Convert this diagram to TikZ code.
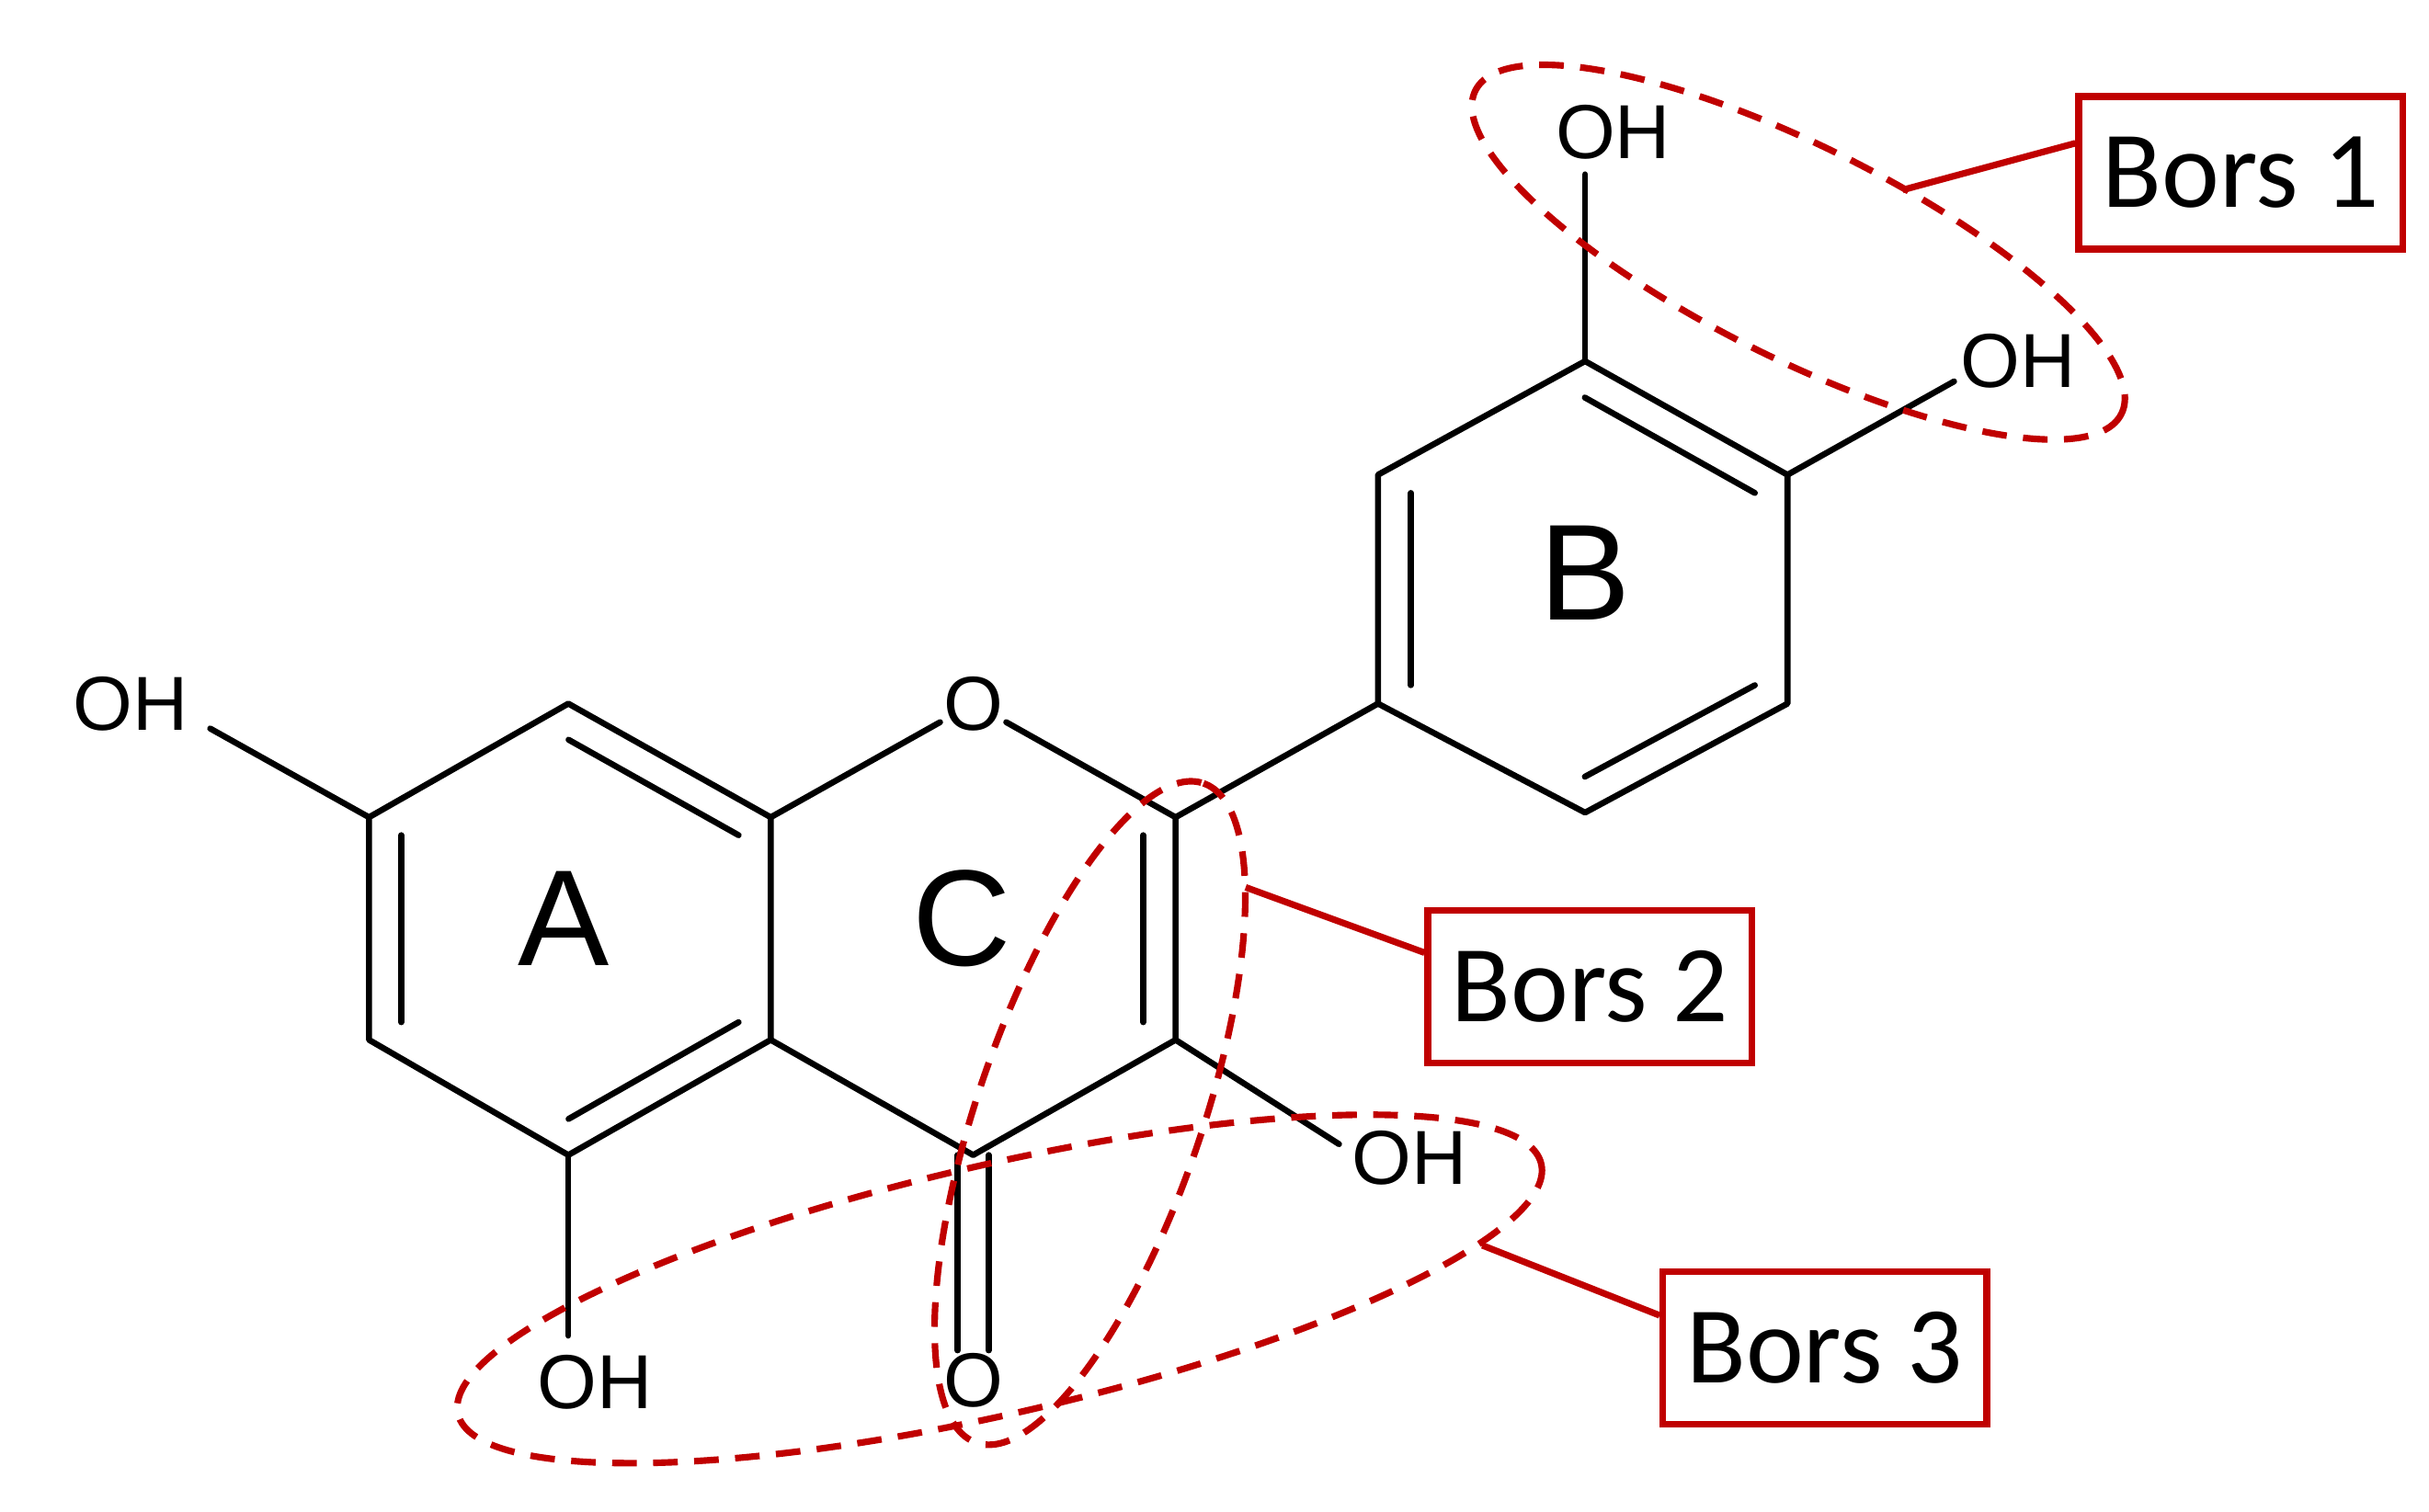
\documentclass[tikz,border=0pt]{standalone}
\usepackage{fontspec}
\setmainfont{Liberation Sans}
\newfontfamily\calib{Carlito}
\usetikzlibrary{calc}
\definecolor{dred}{HTML}{C00000}
\begin{document}
\begin{tikzpicture}[x=0.02cm,y=-0.02cm,
 bond/.style={line width=2.2pt,line cap=round,line join=round},
 atom/.style={inner sep=1pt,font=\fontsize{28}{28}\selectfont},
 ring/.style={font=\fontsize{50}{50}\selectfont},
 bors/.style={draw=dred,line width=2.4pt,font=\calib\fontsize{40}{40}\selectfont,minimum width=208*0.02cm,minimum height=98*0.02cm,inner sep=0pt},
 ell/.style={draw=dred,line width=2.4pt,dash pattern=on 9pt off 6pt},
 lead/.style={draw=dred,line width=2.4pt}]
\useasboundingbox (0,0) rectangle (1560,971);
\coordinate (a1) at (365,452); \coordinate (a2) at (495,525); \coordinate (a3) at (495,668);
\coordinate (a4) at (365,742); \coordinate (a5) at (237,668); \coordinate (a6) at (237,525);
\coordinate (cA) at (366,597); \coordinate (cC) at (625,597); \coordinate (cB) at (1017,378);
\node[atom] (o1) at (625,452) {O};
\coordinate (c2) at (755,525); \coordinate (c3) at (755,668); \coordinate (c4) at (625,742);
\node[atom] (o4) at (625,887) {O};
\coordinate (b1) at (885,452); \coordinate (b2) at (885,305); \coordinate (b3) at (1018,232);
\coordinate (b4) at (1148,305); \coordinate (b5) at (1148,452); \coordinate (b6) at (1018,522);
\node[atom] (oh3) at (905,744) {OH};
\node[atom] (oh5) at (382,888) {OH};
\node[atom] (oh7) at (84,452) {OH};
\node[atom] (oh3p) at (1036,85) {OH};
\node[atom] (oh4p) at (1296,232) {OH};
\draw[bond] (a1)--(a2)--(a3)--(a4)--(a5)--(a6)--cycle;
\draw[bond] (a2)--(o1)--(c2)--(c3)--(c4)--(a3);
\draw[bond] (c2)--(b1);
\draw[bond] (b1)--(b2)--(b3)--(b4)--(b5)--(b6)--cycle;
\foreach \p/\q/\c in {a1/a2/cA,a6/a5/cA,a4/a3/cA,c2/c3/cC,b1/b2/cB,b3/b4/cB,b5/b6/cB}
  \draw[bond] ($(\p)!0.16!(\c)$)--($(\q)!0.16!(\c)$);
\draw[bond] ($(c4)+(-10,0)$)--($(o4.north)+(-10,0)$);
\draw[bond] ($(c4)+(10,0)$)--($(o4.north)+(10,0)$);
\draw[bond] (c3)--(860,735);
\draw[bond] (a4)--(365,858);
\draw[bond] (a6)--(135,468);
\draw[bond] (b3)--(1018,112);
\draw[bond] (b4)--(1255,245);
\node[ring] at (362,590) {A};
\node[ring] at (618,590) {C};
\node[ring] at (1018,368) {B};
\draw[ell,shift={(1155,162)},rotate=-26.6] (0,0) ellipse (232 and 68);
\draw[ell,shift={(700,715)},rotate=71] (0,0) ellipse (224 and 72);
\draw[ell,shift={(642,828)},rotate=13] (0,0) ellipse (357 and 80);
\node[bors] (bx1) at (1439,111) {Bors 1};
\node[bors] (bx2) at (1021,634) {Bors 2};
\node[bors] (bx3) at (1172,866) {Bors 3};
\coordinate (e1) at (1222,122); \coordinate (e2) at (800,570); \coordinate (e3) at (952,800);
\draw[lead] (bx1.west |- 0,92) -- (e1);
\draw[lead] (bx2.west |- 0,612) -- (e2);
\draw[lead] (bx3.west |- 0,845) -- (e3);
\end{tikzpicture}
\end{document}
